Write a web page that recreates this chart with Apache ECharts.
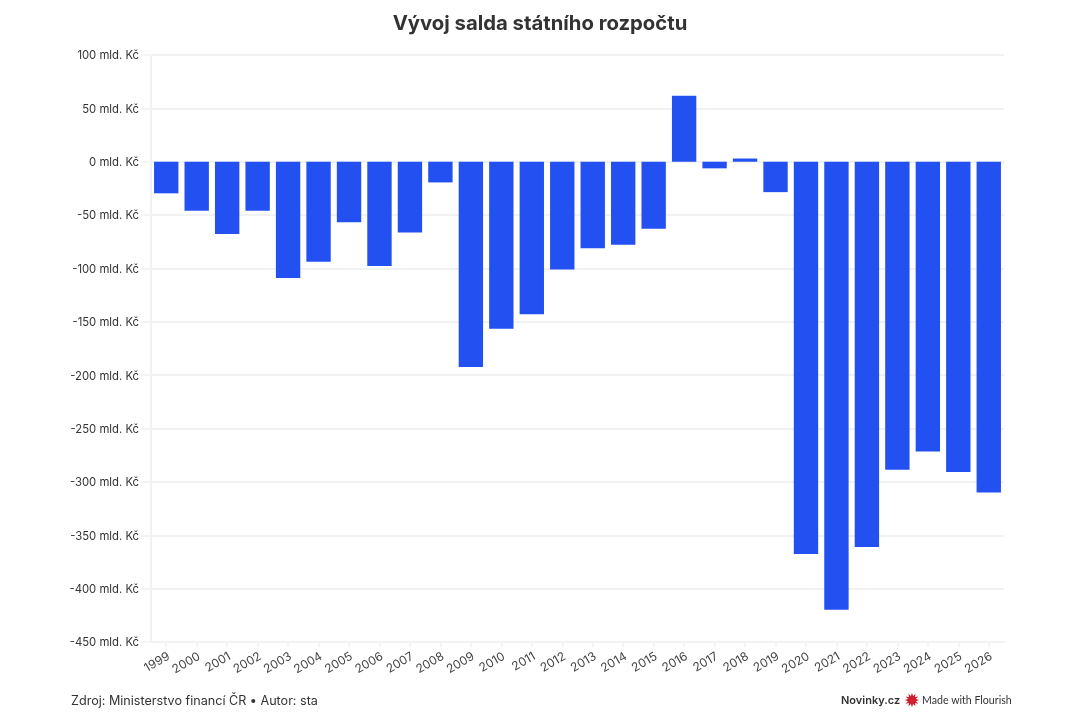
<!DOCTYPE html>
<html><head><meta charset="utf-8">
<style>html,body{margin:0;padding:0;background:#fff}#c{width:1080px;height:720px}</style>
<script src="https://cdn.jsdelivr.net/npm/echarts@6/dist/echarts.min.js"></script>
</head><body><div id="c"></div>
<script>
const years = ['1999','2000','2001','2002','2003','2004','2005','2006','2007','2008','2009','2010','2011','2012','2013','2014','2015','2016','2017','2018','2019','2020','2021','2022','2023','2024','2025','2026'];
const saldo = [-29.6,-46,-67.7,-46,-109,-93.7,-56.7,-97.6,-66.4,-19.4,-192.4,-156.4,-142.8,-101,-81,-77.8,-62.8,61.8,-6.2,3,-28.5,-367.5,-419.7,-361,-288.5,-271.4,-290.7,-310];
const titleText = 'Vývoj salda státního rozpočtu';
const sourceText = 'Zdroj: Ministerstvo financí ČR • Autor: sta';
const font = 'Inter';
const gridColor = '#f1f2f3';
const chart = echarts.init(document.getElementById('c'), null, {renderer:'canvas'});
chart.setOption({
  animation:false,
  backgroundColor:'#fff',
  textStyle:{fontFamily:font},
  title:{text:titleText,left:'center',top:9,textStyle:{fontFamily:font,fontSize:20.3,fontWeight:700,color:'#333'}},
  grid:{left:151,right:76,top:55,bottom:78},
  xAxis:{type:'category',data:years,
    axisLine:{show:true,onZero:false,lineStyle:{color:gridColor,width:2}},
    axisTick:{show:true,alignWithLabel:true,length:5,lineStyle:{color:gridColor,width:1.5}},
    axisLabel:{rotate:30,interval:0,margin:15,formatter:v=>'{a|'+v+'}',
      rich:{a:{fontSize:12,color:'#444',fontFamily:font,padding:[0,-3,0,0]}}},
    splitLine:{show:false}},
  yAxis:{type:'value',min:-450,max:100,interval:50,
    axisLine:{show:true,lineStyle:{color:gridColor,width:2}},
    axisTick:{show:true,length:10,lineStyle:{color:gridColor,width:1.5}},
    axisLabel:{margin:12,formatter:v=>'{a|'+v+' mld. Kč}',
      rich:{a:{fontSize:11.3,color:'#333',fontFamily:font,padding:[2,0,0,0]}}},
    splitLine:{show:true,lineStyle:{color:gridColor,width:2}}},
  series:[{type:'bar',data:saldo,barCategoryGap:'20%',itemStyle:{color:'#2350f0'}}],
  graphic:[
    {type:'text',left:71,top:695,style:{text:sourceText,font:'12.6px Inter',fill:'#333'}},
    {type:'text',left:841,top:695,style:{text:'Novinky.cz',font:'600 11px Inter',fill:'#333'}},
    {type:'text',left:904,top:693,style:{text:'✹',font:'19px "DejaVu Sans"',fill:'#cf2030'}},
    {type:'text',left:922,top:695,style:{text:'Made with Flourish',font:'10.6px Lato',fill:'#333'}}
  ]
});
</script></body></html>
